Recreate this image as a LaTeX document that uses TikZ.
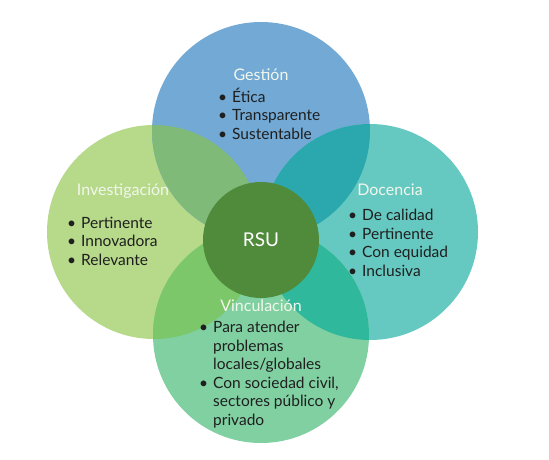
\documentclass[tikz,border=0pt]{standalone}
\usepackage{fontspec}
\setmainfont{Lato}
\usetikzlibrary{positioning}
\definecolor{gestioncol}{HTML}{72A9D5}
\definecolor{investcol}{HTML}{B6D98A}
\definecolor{docencol}{HTML}{65C9C1}
\definecolor{vinculcol}{HTML}{80D0A2}
\definecolor{rsucol}{HTML}{508A3B}
\definecolor{gicol}{HTML}{80BA79}
\definecolor{gdcol}{HTML}{2BA8AE}
\definecolor{vicol}{HTML}{7CC76A}
\definecolor{vdcol}{HTML}{2FB89B}
\definecolor{titcol}{HTML}{F2F7EC}
\tikzset{
x=1pt, y=-1pt,
petal/.style={circle, inner sep=0pt, minimum size=#1},
titulo/.style={text=titcol, font=\fontsize{16}{18}\selectfont, anchor=base},
lista/.style={text=black!88, font=\fontsize{15.5}{18.5}\selectfont, anchor=base west, inner sep=0pt},
}
\newcommand{\items}[1]{\begin{tabular}[t]{@{}l@{\hspace{5pt}}l@{}}#1\end{tabular}}

\begin{document}
\begin{tikzpicture}
    \useasboundingbox[fill=white] (0,0) rectangle (549,459);

    % the four petals
    \node[petal=214pt, fill=investcol] (invest) at (154,232) {};
    \node[petal=218pt, fill=gestioncol] (gestion) at (261,131) {};
    \node[petal=216pt, fill=docencol] (docen) at (370,232) {};
    \node[petal=216pt, fill=vinculcol] (vincul) at (261,335) {};

    % overlaps
    \begin{scope}
        \clip (gestion.center) circle[radius=109pt];
        \fill[gicol] (invest.center) circle[radius=107pt];
        \fill[gdcol] (docen.center) circle[radius=108pt];
    \end{scope}
    \begin{scope}
        \clip (vincul.center) circle[radius=108pt];
        \fill[vicol] (invest.center) circle[radius=107pt];
        \fill[vdcol] (docen.center) circle[radius=108pt];
    \end{scope}

    \node[petal=116pt, fill=rsucol, text=white, font=\fontsize{19}{22}\selectfont] (rsu) at (261,240) {RSU};

    % titles
    \node[titulo] (gestionT) at ([yshift=51pt]gestion.center) {Gestión};
    \node[titulo] (investT) at ([xshift=-31pt,yshift=37pt]invest.center) {Investigación};
    \node[titulo] (docenT) at ([xshift=20pt,yshift=37pt]docen.center) {Docencia};
    \node[titulo] (vinculT) at ([yshift=24pt]vincul.center) {Vinculación};

    % lists
    \node[lista] (gestionL) at (218,102) {\items{\textbullet & Ética\\ \textbullet & Transparente\\ \textbullet & Sustentable}};
    \node[lista] (investL) at (67,228) {\items{\textbullet & Pertinente\\ \textbullet & Innovadora\\ \textbullet & Relevante}};
    \node[lista] (docenL) at (348,220.5) {\items{\textbullet & De calidad\\ \textbullet & Pertinente\\ \textbullet & Con equidad\\ \textbullet & Inclusiva}};
    \node[lista] (vinculL) at (199,332.5) {\items{\textbullet & Para atender\\ & problemas\\ & locales/globales\\ \textbullet & Con sociedad civil,\\ & sectores público y\\ & privado}};

\end{tikzpicture}
\end{document}
